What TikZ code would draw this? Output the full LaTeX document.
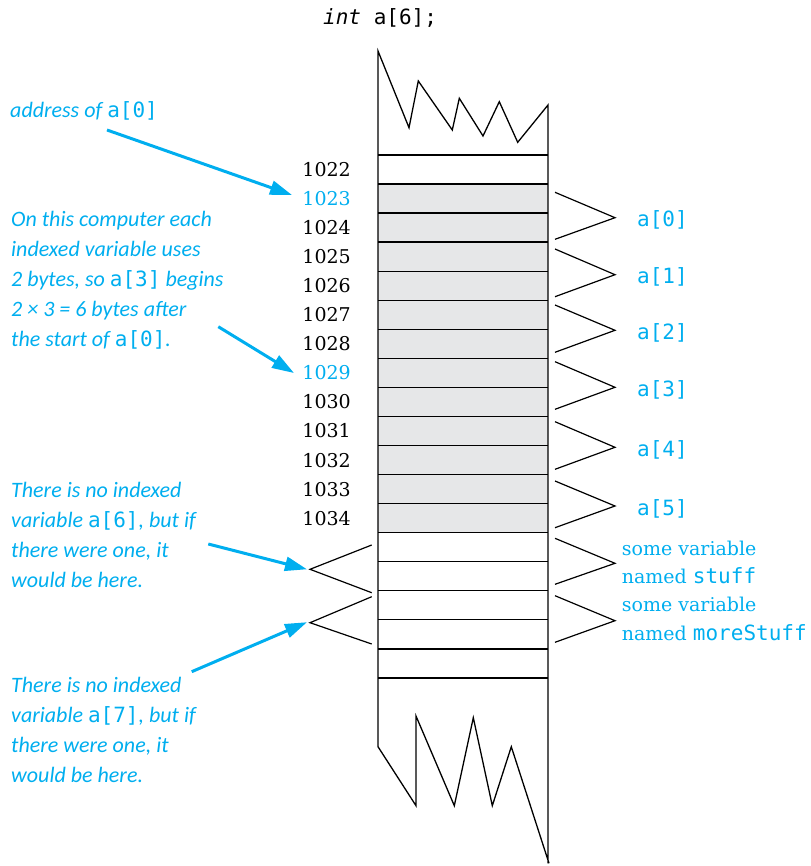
\documentclass[tikz,border=0pt]{standalone}
\usepackage{fontspec}
\setmainfont{DejaVu Serif}
\setmonofont{DejaVu Sans Mono}
\newfontfamily\annfont{Carlito}
\usetikzlibrary{arrows.meta}
\definecolor{cblue}{RGB}{0,174,239}
\definecolor{cellgray}{RGB}{230,231,232}
\newcommand{\mt}[1]{{\ttfamily\upshape\fontsize{21}{21}\selectfont #1}}
\begin{document}
\begin{tikzpicture}[x=1pt,y=-1pt,
  addr/.style={anchor=base east, font=\fontsize{19}{19}\selectfont, inner sep=0pt},
  lbl/.style={anchor=base west, text=cblue, font=\ttfamily\fontsize{21}{21}\selectfont, inner sep=0pt},
  varlbl/.style={anchor=base west, text=cblue, font=\fontsize{19}{19}\selectfont, inner sep=0pt},
  note/.style={anchor=base west, text=cblue, font=\annfont\itshape\fontsize{22}{22}\selectfont, inner sep=0pt},
  ptr/.style={cblue, line width=3pt, -{Triangle[length=22pt,width=14pt]}},
  edge/.style={line width=1.3pt, line join=miter},
  brace/.style={line width=1.2pt, line join=miter}]
\useasboundingbox (0,0) rectangle (810,866);
% shaded cells of the array
\fill[cellgray] (378,184) rectangle (548,533);
% horizontal cell borders
\foreach \k in {0,...,18} \draw[edge] (378,{155+29.05*\k}) -- (548,{155+29.05*\k});
% memory column with torn ends
\draw[edge] (548,863.3) -- (548,105) -- (517.7,142.3) -- (499.3,101.7) -- (483,136) -- (459.3,98.3)
  -- (452.3,130) -- (418.3,81) -- (409,127.7) -- (378,51) -- (378,746.7) -- (416,805.7)
  -- (416,716) -- (454.3,805.7) -- (473.3,717.7) -- (492.3,805.7) -- (511.3,746.7) -- (549,863.3);
% title
\node[anchor=base west, inner sep=0pt, font=\ttfamily\fontsize{21}{21}\selectfont] (title) at (323,25) {\textit{int} a[6];};
% addresses
\node[addr] (m1022) at (351,{176.5+29.05*0}) {1022};
\node[addr, text=cblue] (m1023) at (351,{176.5+29.05*1}) {1023};
\node[addr] (m1024) at (351,{176.5+29.05*2}) {1024};
\node[addr] (m1025) at (351,{176.5+29.05*3}) {1025};
\node[addr] (m1026) at (351,{176.5+29.05*4}) {1026};
\node[addr] (m1027) at (351,{176.5+29.05*5}) {1027};
\node[addr] (m1028) at (351,{176.5+29.05*6}) {1028};
\node[addr, text=cblue] (m1029) at (351,{176.5+29.05*7}) {1029};
\node[addr] (m1030) at (351,{176.5+29.05*8}) {1030};
\node[addr] (m1031) at (351,{176.5+29.05*9}) {1031};
\node[addr] (m1032) at (351,{176.5+29.05*10}) {1032};
\node[addr] (m1033) at (351,{176.5+29.05*11}) {1033};
\node[addr] (m1034) at (351,{176.5+29.05*12}) {1034};
% right braces and element labels
\foreach \t/\p/\b [count=\i from 0] in {192.3/217.7/239.3, 249/274.7/296.7, 305/330.3/352.3, 361.7/387.3/409.3, 421.7/447.3/469.3, 481/506/527.7} {
  \draw[brace] (555,\t) -- (615,\p) -- (555,\b);
  \node[lbl] (el\i) at (637,\p+9) {a[\i]};
}
\draw[brace] (555,538.3) -- (615,563.3) -- (555,584.3);
\draw[brace] (555,595.7) -- (615,620.7) -- (555,642.3);
\node[varlbl] (v1a) at (621.7,555) {some variable};
\node[varlbl] (v1b) at (621.7,583.3) {named \mt{stuff}};
\node[varlbl] (v2a) at (621.7,611.7) {some variable};
\node[varlbl] (v2b) at (621.7,640) {named \mt{moreStuff}};
% left braces for nonexistent elements
\coordinate (t6) at (310,569.3);
\coordinate (t7) at (310,622.7);
\draw[brace] (371.7,545) -- (t6) -- (371.7,592.7);
\draw[brace] (371.7,596.7) -- (t7) -- (371.7,644);
% notes
\node[note] (n1) at (10,118) {address of \mt{a[0]}};
\node[note] (n2a) at (11,226.5) {On this computer each};
\node[note] (n2b) at (11,256.5) {indexed variable uses};
\node[note] (n2c) at (11,286.5) {2 bytes, so \mt{a[3]} begins};
\node[note] (n2d) at (11,316.5) {2 × 3 = 6 bytes after};
\node[note] (n2e) at (11,346.5) {the start of \mt{a[0]}.};
\node[note] (n3a) at (11,497) {There is no indexed};
\node[note] (n3b) at (11,527) {variable \mt{a[6]}, but if};
\node[note] (n3c) at (11,557) {there were one, it};
\node[note] (n3d) at (11,587) {would be here.};
\node[note] (n4a) at (11,692) {There is no indexed};
\node[note] (n4b) at (11,722.3) {variable \mt{a[7]}, but if};
\node[note] (n4c) at (11,752.3) {there were one, it};
\node[note] (n4d) at (11,782.3) {would be here.};
% pointer arrows
\coordinate (s1) at (107,130);
\coordinate (e1) at (292,195);
\coordinate (s2) at (218.3,326.7);
\coordinate (e2) at (294,373);
\coordinate (s3) at (208.3,544);
\coordinate (s4) at (191.7,671.7);
\draw[ptr] (s1) -- (e1);
\draw[ptr] (s2) -- (e2);
\draw[ptr] (s3) -- ([xshift=-3pt]t6);
\draw[ptr] (s4) -- ([xshift=-3pt,yshift=0.5pt]t7);
\end{tikzpicture}
\end{document}
